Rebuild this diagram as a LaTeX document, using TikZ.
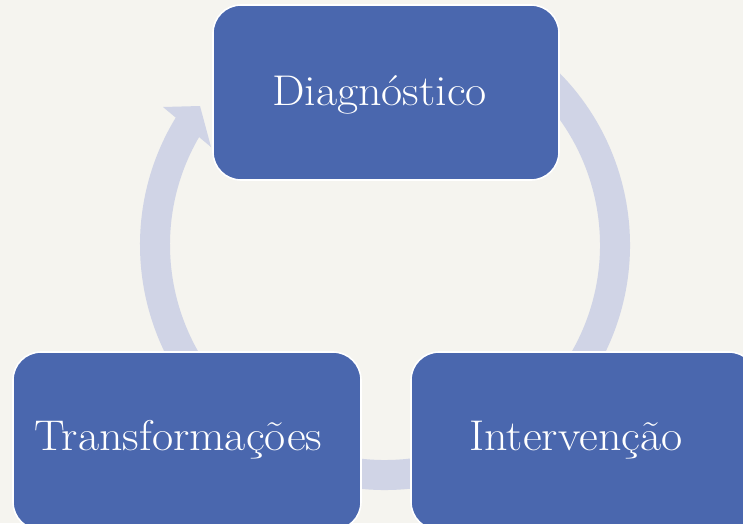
\documentclass[tikz,border=0pt]{standalone}
\usepackage{fontspec}
\setmainfont{Latin Modern Roman}[FakeStretch=1.07]
\definecolor{bg}{RGB}{245,244,239}
\definecolor{boxblue}{RGB}{74,103,174}
\definecolor{ringcol}{RGB}{208,212,230}
\begin{document}
\begin{tikzpicture}[x=1pt,y=-1pt,
  stagebox/.style={draw=white,line width=1.6pt,fill=boxblue,rounded corners=28pt},
  stagetext/.style={anchor=base,text=white,inner sep=0pt,font=\fontsize{43}{52}\selectfont},
  ringline/.style={draw=ringcol,line width=30pt},
  ringhead/.style={fill=ringcol,draw=none}]
\path[use as bounding box,fill=bg] (0,0) rectangle (743,523);
\clip (0,0) rectangle (743,523);
% ring
\coordinate (c) at (385,245);
\draw[ringline] (c) ++(-55:230) arc[start angle=-55,end angle=212,radius=230];
\coordinate (hb1) at (163,107);
\coordinate (htip) at (200,106);
\coordinate (hb2) at (211,147);
\fill[ringhead] (hb1) -- (htip) -- (hb2) -- cycle;
% boxes
\draw[stagebox] (213,5) rectangle (559,180);
\draw[stagebox] (13,352) rectangle (361,530);
\draw[stagebox] (411,352) rectangle (757,530);
% texts
\node[stagetext] (dtxt) at (379.5,105) {Diagnóstico};
\node[stagetext] (ttxt) at (178.5,450.5) {Transformações};
\node[stagetext] (itxt) at (576,450.5) {Intervenção};
\end{tikzpicture}
\end{document}
